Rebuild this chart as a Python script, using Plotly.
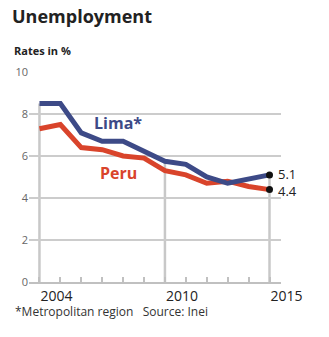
import plotly.graph_objects as go

years = list(range(2004, 2016))
lima = [8.5, 8.5, 7.1, 6.7, 6.7, 6.2, 5.75, 5.6, 5.0, 4.7, 4.9, 5.1]
peru = [7.3, 7.5, 6.4, 6.3, 6.0, 5.9, 5.3, 5.1, 4.7, 4.8, 4.55, 4.4]
x_labels = [2004, 2010, 2015]
y_ticks = [0, 2, 4, 6, 8, 10]

LIMA_C = "#3d4a87"
PERU_C = "#d9442b"
GRID = "#cccccc"
FONT = "Open Sans"

fig = go.Figure()
fig.add_trace(go.Scatter(x=years, y=peru, mode="lines",
                         line=dict(color=PERU_C, width=5), hoverinfo="skip"))
fig.add_trace(go.Scatter(x=years, y=lima, mode="lines",
                         line=dict(color=LIMA_C, width=5), hoverinfo="skip"))
fig.add_trace(go.Scatter(x=[years[-1], years[-1]], y=[lima[-1], peru[-1]], mode="markers",
                         marker=dict(color="#111111", size=7), hoverinfo="skip"))

shapes = []
for yr in x_labels:
    i = years.index(yr)
    shapes.append(dict(type="line", xref="x", yref="y", x0=yr, x1=yr, y0=0,
                       y1=max(lima[i], peru[i]), layer="below",
                       line=dict(color="#c8c8c8", width=2.5)))

annotations = [
    dict(x=2007.76, y=7.56, xref="x", yref="y", text="<b>Lima*</b>", showarrow=False,
         font=dict(family=FONT, size=16, color=LIMA_C)),
    dict(x=2007.78, y=5.19, xref="x", yref="y", text="<b>Peru</b>", showarrow=False,
         font=dict(family=FONT, size=16, color=PERU_C)),
    dict(x=years[-1], y=lima[-1], xref="x", yref="y", text=f"{lima[-1]:.1f}", showarrow=False,
         xanchor="left", xshift=6, yshift=1, font=dict(family=FONT, size=13, color="#222222")),
    dict(x=years[-1], y=peru[-1], xref="x", yref="y", text=f"{peru[-1]:.1f}", showarrow=False,
         xanchor="left", xshift=6, yshift=-1, font=dict(family=FONT, size=13, color="#222222")),
    dict(x=(12 - 29) / 252, y=(282 - 51) / 210, xref="paper", yref="paper", text="<b>Rates in %</b>",
         showarrow=False, xanchor="left", yanchor="middle",
         font=dict(family=FONT, size=11, color="#222222")),
    dict(x=(13 - 29) / 252, y=(282 - 311) / 210, xref="paper", yref="paper",
         text="*Metropolitan region   Source: Inei",
         showarrow=False, xanchor="left", yanchor="middle",
         font=dict(family=FONT, size=12, color="#333333")),
]

fig.update_layout(
    width=329, height=337,
    margin=dict(l=29, r=48, t=72, b=55),
    paper_bgcolor="white", plot_bgcolor="white",
    showlegend=False,
    title=dict(text="<b>Unemployment</b>", x=12 / 329, xanchor="left",
               y=1 - 17 / 337, yanchor="middle", xref="container", yref="container",
               font=dict(family=FONT, size=18, color="#222222")),
    shapes=shapes,
    annotations=annotations,
    xaxis=dict(range=[2003.5, 2015.55], tickvals=x_labels, ticktext=[str(v) for v in x_labels],
               ticks="", showgrid=False, zeroline=False, showline=True,
               linecolor="#c0c0c0", linewidth=2, ticklabelposition="outside right",
               tickfont=dict(family=FONT, size=14, color="#222222"),
               minor=dict(tick0=2004, dtick=1, ticks="inside", ticklen=5,
                          tickcolor="#c0c0c0", tickwidth=1.5, showgrid=False)),
    yaxis=dict(range=[0, 10], tickvals=y_ticks, showgrid=True, gridcolor=GRID, gridwidth=1.5,
               zeroline=False, showline=False, ticks="",
               tickfont=dict(family=FONT, size=11, color="#666666")),
)

fig.write_html("out.html")
